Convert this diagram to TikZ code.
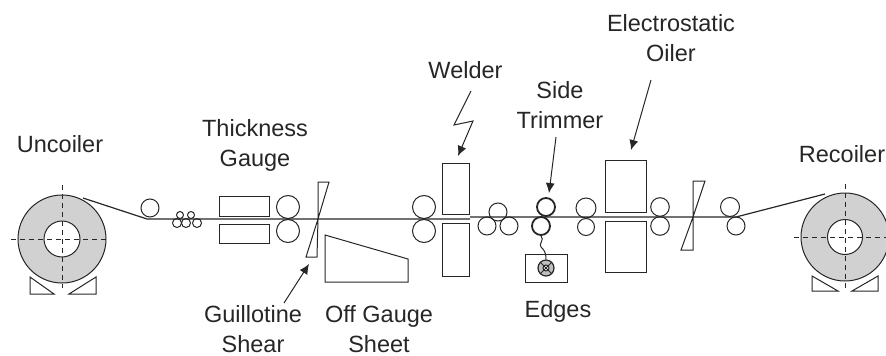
\documentclass[tikz,border=0pt]{standalone}
\usepackage{fontspec}
\setmainfont{Liberation Sans}
\usetikzlibrary{arrows.meta}
\tikzset{
  every path/.style={line width=1pt},
  lbl/.style={draw=none,inner sep=0pt,anchor=base,align=center,text=black!85,font=\fontsize{23.5}{30}\selectfont},
  roller/.style={circle,draw,inner sep=0pt,minimum size=#1*2pt,line width=1pt},
  thickroller/.style={circle,draw,inner sep=0pt,minimum size=#1*2pt,line width=1.8pt},
  boxb/.style={draw,line width=1pt},
  coil/.style={fill=black!18,draw=black!85},
  axis/.style={dash pattern=on 5pt off 4pt,line width=1pt},
  arr/.style={-{Latex[length=10pt,width=9pt]},line width=1pt},
  strip/.style={line width=1.2pt}
}
\begin{document}
\begin{tikzpicture}[x=1pt,y=-1pt,color=black!85]
\useasboundingbox (0,0) rectangle (886,356);
% labels
\node[lbl] (tEO) at (671,61) {Electrostatic\\Oiler};
\node[lbl] (tWe) at (465.5,78) {Welder};
\node[lbl] (tST) at (560,128) {Side\\Trimmer};
\node[lbl] (tRe) at (842,162) {Recoiler};
\node[lbl] (tUn) at (60,152) {Uncoiler};
\node[lbl] (tTG) at (255,166) {Thickness\\Gauge};
\node[lbl] (tGS) at (253,352) {Guillotine\\Shear};
\node[lbl] (tOG) at (379,352) {Off Gauge\\Sheet};
\node[lbl] (tEd) at (558,317) {Edges};
% uncoiler
\coordinate (uc) at (62,239);
\draw[coil] (uc) circle (44);
\draw[fill=white] (uc) circle (18);
\draw[axis] (11,239) -- (107,239);
\draw[axis] (62,185) -- (62,288);
\draw (30,277) -- (30,294) -- (54,294) -- cycle;
\draw (96,277) -- (96,294) -- (69,294) -- cycle;
% recoiler
\coordinate (rc) at (845,237);
\draw[coil] (rc) circle (44);
\draw[fill=white] (rc) circle (17.5);
\draw[axis] (794,237) -- (886,237);
\draw[axis] (845,184) -- (845,290);
\draw (812,276) -- (812,291) -- (838,291) -- cycle;
\draw (878,276) -- (878,291) -- (852,291) -- cycle;
% rollers
\node[roller=9] (r1) at (150,208) {};
\node[roller=3.5] (s1) at (180,215) {};
\node[roller=3.5] (s2) at (191,215) {};
\node[roller=4.5] (s3) at (177,223) {};
\node[roller=4.5] (s4) at (186,223) {};
\node[roller=4.5] (s5) at (197,223) {};
\node[roller=11.5] (g1) at (288,207) {};
\node[roller=11.5] (g2) at (288,231) {};
\node[roller=11.5] (w1) at (424,207) {};
\node[roller=11.5] (w2) at (424,231) {};
\node[roller=9] (t1) at (498,212) {};
\node[roller=9] (t2) at (487,226) {};
\node[roller=9] (t3) at (509,226) {};
\node[thickroller=9] (k1) at (546,207) {};
\node[thickroller=9] (k2) at (541,226) {};
\node[roller=10] (a1) at (586,208) {};
\node[roller=8.5] (a2) at (586,227) {};
\node[roller=9.3] (b1) at (660,207) {};
\node[roller=9.3] (b2) at (660,226) {};
\node[roller=9.5] (c1) at (730,207) {};
\node[roller=9] (c2) at (736,226) {};
% strip
\coordinate (s0) at (147,219);
\coordinate (s6) at (470,219);
\coordinate (s7) at (470,217);
\coordinate (s8) at (736,217);
\coordinate (ut) at (83,198);
\coordinate (rt) at (825,194);
\draw[strip] (ut) -- (s0) -- (s6);
\draw[strip] (s7) -- (s8) -- (rt);
% thickness gauge boxes
\draw[boxb] (219,196) rectangle (269,216);
\draw[boxb] (219,224) rectangle (269,243);
% shears
\draw[boxb] (318,182) -- (329,182) -- (318,219) -- cycle;
\draw[boxb] (318,219) -- (317,257) -- (306,257) -- cycle;
\draw[boxb] (693,181) -- (705,181) -- (693,217) -- cycle;
\draw[boxb] (693,217) -- (693,250) -- (681,250) -- cycle;
% off gauge sheet
\draw[boxb] (325,235) -- (408,259) -- (408,282) -- (325,282) -- cycle;
% welder
\draw[boxb] (442,163) rectangle (469,214);
\draw[boxb] (442,223) rectangle (469,276);
% oiler
\draw[boxb] (605,160) rectangle (646,212);
\draw[boxb] (605,221) rectangle (646,272);
% trimmer box
\draw[boxb] (525,254) rectangle (567,282);
\node[circle,draw,fill=black!25,inner sep=0pt,minimum size=16pt,line width=1.2pt] (ed) at (546,268) {};
\draw (ed.north west) -- (ed.south east);
\draw (ed.north east) -- (ed.south west);
\node[circle,draw,fill=white,inner sep=0pt,minimum size=6pt] (edi) at (546,268) {};
\draw (edi.north west) -- (edi.south east);
\draw (edi.north east) -- (edi.south west);
% arrows
\coordinate (ag0) at (284,303);
\coordinate (ag1) at (309,264);
\draw[arr] (ag0) -- (ag1);
\coordinate (aw0) at (471,91);
\coordinate (aw1) at (454,125);
\coordinate (aw2) at (473,121);
\coordinate (aw3) at (458,156);
\draw[arr] (aw0) -- (aw1) -- (aw2) -- (aw3);
\coordinate (at0) at (556,137);
\coordinate (at1) at (549,193);
\draw[arr] (at0) -- (at1);
\coordinate (ao0) at (651,80);
\coordinate (ao1) at (631,150);
\draw[arr] (ao0) -- (ao1);
\draw (k2.south) .. controls (545,240) and (538,244) .. (541,247) .. controls (544,250) and (546,252) .. (ed.north);
\end{tikzpicture}
\end{document}
